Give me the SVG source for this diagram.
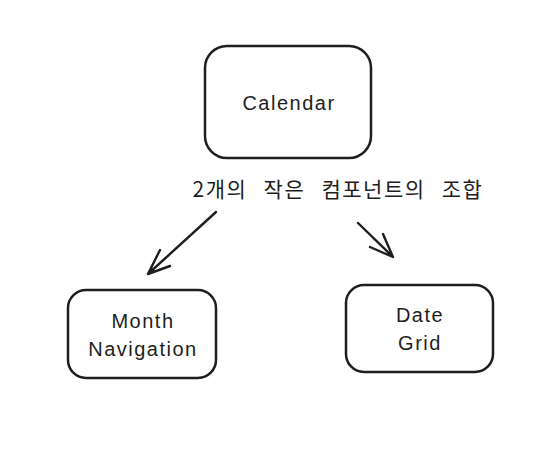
<svg xmlns="http://www.w3.org/2000/svg" width="536" height="456" viewBox="0 0 536 456">
<defs>
<style>
.box{fill:#ffffff;stroke:#1e1e1e;stroke-width:2.5;}
.t{font-family:"Liberation Sans","Noto Sans CJK KR",sans-serif;font-size:20px;letter-spacing:1.5px;fill:#1e1e1e;text-anchor:middle;}
.lbl{font-family:"Noto Sans CJK KR","Liberation Sans",sans-serif;font-size:21px;letter-spacing:1.5px;word-spacing:10px;fill:#1e1e1e;text-anchor:middle;}
.c{fill:none;stroke:#1e1e1e;stroke-width:2.4;stroke-linecap:round;stroke-linejoin:round;}
</style>
</defs>
<rect width="536" height="456" fill="#ffffff"/>
<g id="calendar">
<rect class="box" x="205" y="46" width="166" height="112" rx="22"/>
<text class="t" x="289" y="110">Calendar</text>
</g>
<g id="month-navigation">
<rect class="box" x="68" y="290" width="148" height="88" rx="18"/>
<text class="t" x="143" y="328">Month</text>
<text class="t" x="143" y="356">Navigation</text>
</g>
<g id="date-grid">
<rect class="box" x="346" y="285" width="147" height="87" rx="18"/>
<text class="t" x="420" y="322">Date</text>
<text class="t" x="420" y="350">Grid</text>
</g>
<g id="connectors">
<path class="c" d="M216 212 L148 274 M148 274 L160 250 M148 274 L170 266"/>
<path class="c" d="M358 223 L393 257 M393 257 L383 234 M393 257 L370 247"/>
<text class="lbl" x="338" y="197">2개의 작은 컴포넌트의 조합</text>
</g>
</svg>
